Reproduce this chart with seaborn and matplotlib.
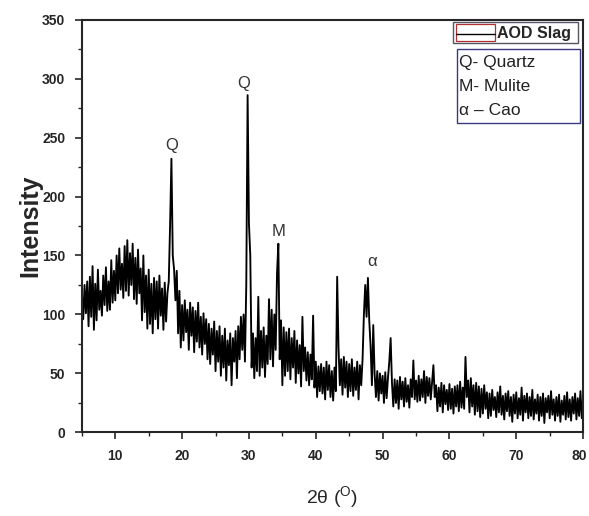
import numpy as np
import pandas as pd
import matplotlib
matplotlib.use('Agg')
import matplotlib.pyplot as plt
from matplotlib.patches import Rectangle
from matplotlib.ticker import MultipleLocator, FuncFormatter
import seaborn as sns

# -----------------------------
# DATA (0.2 deg steps from 5 to 80)
# -----------------------------
theta_start = 5.0
theta_stop = 80.0

intensity = [
    118, 96, 125, 101, 128,   # 5
    90, 132, 98, 141, 87,     # 6
    126, 95, 138, 104, 120,   # 7
    99, 133, 108, 140, 103,   # 8
    128, 104, 146, 110, 137,  # 9
    112, 150, 118, 156, 121,  # 10
    143, 114, 158, 120, 163,  # 11
    116, 152, 125, 160, 113,  # 12
    148, 109, 155, 118, 139,  # 13
    95, 150, 102, 133, 88,    # 14
    138, 92, 126, 84, 131,    # 15
    96, 128, 88, 133, 99,     # 16
    122, 87, 127, 94, 118,    # 17
    128, 176, 232, 150, 138,  # 18
    112, 137, 84, 120, 72,    # 19
    108, 78, 112, 85, 104,    # 20
    70, 110, 82, 106, 68,     # 21
    103, 77, 110, 72, 98,     # 22
    66, 101, 75, 96, 62,      # 23
    92, 58, 88, 66, 94,       # 24
    52, 86, 60, 90, 48,       # 25
    82, 55, 88, 44, 78,       # 26
    57, 84, 40, 80, 60,       # 27
    86, 46, 90, 62, 98,       # 28
    70, 100, 60, 125, 286,    # 29
    177, 150, 55, 84, 46,     # 30
    80, 52, 115, 48, 86,      # 31
    55, 89, 47, 82, 58,       # 32
    113, 62, 104, 56, 100,    # 33
    70, 135, 160, 62, 95,     # 34
    40, 89, 48, 85, 52,       # 35
    88, 45, 80, 55, 86,       # 36
    42, 78, 50, 74, 39,       # 37
    98, 52, 72, 44, 68,       # 38
    40, 66, 45, 99, 38,       # 39
    60, 30, 56, 35, 58,       # 40
    33, 55, 28, 60, 36,       # 41
    57, 30, 52, 27, 55,       # 42
    35, 132, 72, 40, 62,      # 43
    32, 64, 38, 60, 30,       # 44
    58, 35, 62, 31, 55,       # 45
    36, 60, 28, 57, 40,       # 46
    62, 100, 125, 98, 131,    # 47
    95, 73, 40, 91, 50,       # 48
    30, 52, 27, 50, 33,       # 49
    48, 25, 51, 29, 46,       # 50
    60, 80, 42, 22, 45,       # 51
    25, 44, 20, 47, 28,       # 52
    43, 22, 46, 26, 40,       # 53
    21, 45, 30, 61, 28,       # 54
    44, 26, 48, 27, 45,       # 55
    30, 52, 25, 47, 31,       # 56
    46, 28, 43, 57, 30,       # 57
    40, 18, 38, 22, 42,       # 58
    17, 40, 24, 36, 19,       # 59
    41, 20, 37, 16, 39,       # 60
    22, 40, 18, 43, 21,       # 61
    38, 20, 64, 30, 44,       # 62
    17, 46, 22, 40, 15,       # 63
    42, 18, 39, 13, 37,       # 64
    16, 40, 20, 34, 12,       # 65
    33, 14, 36, 19, 30,       # 66
    13, 34, 17, 39, 15,       # 67
    31, 11, 33, 18, 35,       # 68
    14, 30, 9, 32, 16,        # 69
    34, 12, 29, 15, 38,       # 70
    10, 31, 17, 33, 12,       # 71
    30, 14, 36, 11, 28,       # 72
    16, 32, 10, 30, 14,       # 73
    33, 8, 29, 17, 31,        # 74
    12, 35, 15, 28, 10,       # 75
    30, 14, 32, 9, 27,        # 76
    15, 31, 11, 34, 13,       # 77
    28, 10, 30, 16, 33,       # 78
    11, 29, 14, 35, 12,       # 79
    30,                       # 80
]
two_theta = np.linspace(theta_start, theta_stop, len(intensity))

# peak labels
peak_labels = ['Q', 'Q', 'M', '\u03b1']
peak_x = [18.4, 29.2, 34.4, 48.4]
peak_y = [243, 296, 170, 145]

# phase key
phase_lines = ['Q- Quartz', 'M- Mulite', '\u03b1 \u2013 Cao']

df = pd.DataFrame({'two_theta': two_theta, 'intensity': intensity})

# -----------------------------
# PLOT
# -----------------------------
sns.set_style('ticks')
plt.rcParams['font.family'] = ['Liberation Sans', 'DejaVu Sans']

fig = plt.figure(figsize=(5.89, 5.16), dpi=100)
ax = fig.add_axes([0.139, 0.162, 0.851, 0.800])

sns.lineplot(data=df, x='two_theta', y='intensity', color='black',
             linewidth=1.35, estimator=None, sort=False, ax=ax)

ax.set_xlim(theta_start, theta_stop)
ax.set_ylim(0, 350)
ax.xaxis.set_major_locator(MultipleLocator(10))
ax.xaxis.set_minor_locator(MultipleLocator(5))
ax.yaxis.set_major_locator(MultipleLocator(50))
ax.yaxis.set_minor_locator(MultipleLocator(25))
# last x label is drawn separately, nudged to stay inside the figure
ax.xaxis.set_major_formatter(FuncFormatter(
    lambda v, p: '' if v >= theta_stop else f'{v:.0f}'))
ax.tick_params(which='major', direction='out', length=5, width=1.2,
               labelsize=10, pad=7)
ax.tick_params(which='minor', direction='out', length=3, width=1.0)
for lab in ax.get_xticklabels() + ax.get_yticklabels():
    lab.set_fontweight('bold')
for s in ax.spines.values():
    s.set_linewidth(1.5)
    s.set_visible(True)

ax.annotate(f'{theta_stop:.0f}', xy=(theta_stop, 0),
            xycoords=('data', 'axes fraction'), xytext=(-3, -12),
            textcoords='offset points', ha='center', va='top',
            fontsize=10, fontweight='bold', color='#262626')

ax.set_xlabel('2\u03b8 ($\\mathregular{^O}$)', fontsize=14, labelpad=15)
ax.set_ylabel('Intensity', fontsize=18, fontweight='bold', labelpad=0)

for lab, x, y in zip(peak_labels, peak_x, peak_y):
    ax.text(x, y, lab, ha='center', va='center', fontsize=12, color='#333333')

# legend boxes drawn in axes fraction
ax.add_patch(Rectangle((0.740, 0.943), 0.250, 0.051, transform=ax.transAxes,
                       fill=False, edgecolor='#555566', lw=1.0, clip_on=False))
ax.add_patch(Rectangle((0.746, 0.947), 0.078, 0.043, transform=ax.transAxes,
                       fill=False, edgecolor='#b03030', lw=0.9, clip_on=False))
ax.plot([0.746, 0.824], [0.965, 0.965], color='black', lw=1.0,
        transform=ax.transAxes, clip_on=False)
ax.text(0.829, 0.966, 'AOD Slag', transform=ax.transAxes, fontsize=11.5,
        fontweight='bold', va='center', ha='left')

ax.add_patch(Rectangle((0.749, 0.749), 0.245, 0.179, transform=ax.transAxes,
                       fill=False, edgecolor='#3a3a80', lw=1.0, clip_on=False))
for i, t in enumerate(phase_lines):
    ax.text(0.753, 0.895 - i * 0.058, t, transform=ax.transAxes, fontsize=12.5,
            va='center', ha='left', color='#222222')

fig.savefig('out.png', dpi=100)
plt.close(fig)
